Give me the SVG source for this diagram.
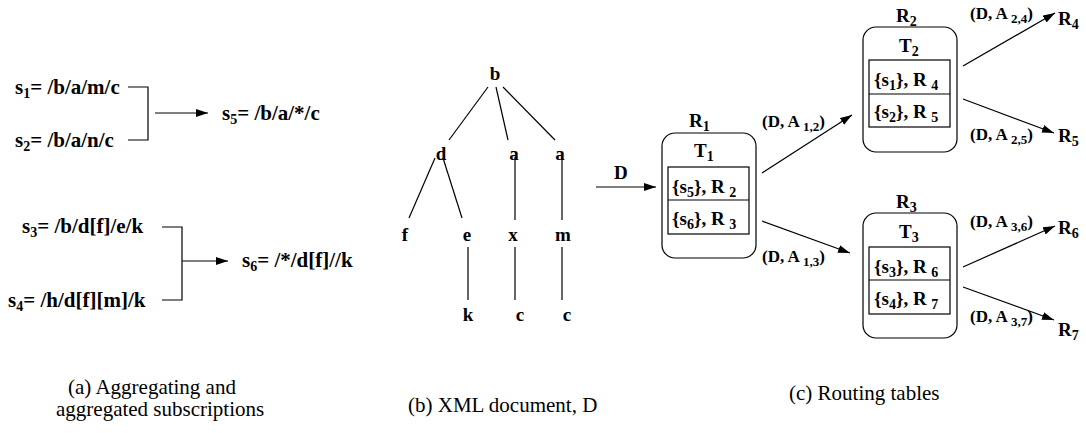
<svg xmlns="http://www.w3.org/2000/svg" width="1086" height="433" viewBox="0 0 1086 433" font-family="'Liberation Serif', 'DejaVu Serif', serif">
<style>
text{font-family:'Liberation Serif','DejaVu Serif',serif;fill:#000}
.b{font-weight:bold;font-size:21px}
.t{font-weight:bold;font-size:19px;text-anchor:middle}
.l{font-weight:bold;font-size:19px}
.e{font-weight:bold;font-size:17px}
.cap{font-size:21px}
.ln{stroke:#000;stroke-width:1.2;fill:none}
.box{stroke:#000;stroke-width:1.2;fill:#fff}
.sub{font-size:14px}
.e .sub{font-size:13px}
</style>
<defs>
<marker id="ah" viewBox="0 0 12 8" refX="12" refY="4" markerWidth="12" markerHeight="8" markerUnits="userSpaceOnUse" orient="auto">
<path d="M0,0 L12,4 L0,8 Z" fill="#000"/>
</marker>
</defs>

<g id="connectors">
<path class="ln" d="M128,87 H148 V140 H128"/>
<line class="ln" x1="155" y1="113" x2="208" y2="113" marker-end="url(#ah)"/>
<path class="ln" d="M162,227 H182 V300 H162"/>
<line class="ln" x1="182" y1="261" x2="228" y2="261" marker-end="url(#ah)"/>
<line class="ln" x1="488" y1="87" x2="449" y2="140"/>
<line class="ln" x1="496" y1="87" x2="508" y2="140"/>
<line class="ln" x1="503" y1="87" x2="555" y2="140"/>
<line class="ln" x1="435" y1="158" x2="409" y2="218"/>
<line class="ln" x1="443" y1="158" x2="462" y2="218"/>
<line class="ln" x1="515" y1="157" x2="515" y2="220"/>
<line class="ln" x1="562" y1="157" x2="562" y2="220"/>
<line class="ln" x1="468" y1="247" x2="468" y2="300"/>
<line class="ln" x1="515" y1="247" x2="515" y2="300"/>
<line class="ln" x1="562" y1="247" x2="562" y2="300"/>
<line class="ln" x1="596" y1="187" x2="656" y2="187" marker-end="url(#ah)"/>
<line class="ln" x1="762" y1="173" x2="852" y2="115" marker-end="url(#ah)"/>
<line class="ln" x1="762" y1="221" x2="850" y2="253" marker-end="url(#ah)"/>
<line class="ln" x1="963" y1="66" x2="1055" y2="13" marker-end="url(#ah)"/>
<line class="ln" x1="963" y1="99" x2="1054" y2="133" marker-end="url(#ah)"/>
<line class="ln" x1="963" y1="267" x2="1055" y2="226" marker-end="url(#ah)"/>
<line class="ln" x1="963" y1="287" x2="1054" y2="320" marker-end="url(#ah)"/>
</g>

<g id="subscriptions">
<text class="b" x="15" y="94">s<tspan class="sub" dy="4">1</tspan><tspan dy="-4">= /b/a/m/c</tspan></text>
<text class="b" x="15" y="147">s<tspan class="sub" dy="4">2</tspan><tspan dy="-4">= /b/a/n/c</tspan></text>
<text class="b" x="222" y="120">s<tspan class="sub" dy="4">5</tspan><tspan dy="-4">= /b/a/*/c</tspan></text>
<text class="b" x="22" y="233">s<tspan class="sub" dy="4">3</tspan><tspan dy="-4">= /b/d[f]/e/k</tspan></text>
<text class="b" x="8" y="307">s<tspan class="sub" dy="4">4</tspan><tspan dy="-4">= /h/d[f][m]/k</tspan></text>
<text class="b" x="242" y="267">s<tspan class="sub" dy="4">6</tspan><tspan dy="-4">= /*/d[f]//k</tspan></text>
</g>

<g id="tree">
<text class="t" x="495" y="80">b</text>
<text class="t" x="441" y="160">d</text>
<text class="t" x="514" y="160">a</text>
<text class="t" x="560" y="160">a</text>
<text class="t" x="405" y="241">f</text>
<text class="t" x="467" y="241">e</text>
<text class="t" x="513" y="241">x</text>
<text class="t" x="563" y="241">m</text>
<text class="t" x="468" y="321">k</text>
<text class="t" x="520" y="321">c</text>
<text class="t" x="567" y="321">c</text>
<text class="l" x="614" y="179">D</text>
</g>

<g id="R1">
<rect class="box" x="662" y="133" width="94" height="125" rx="13"/>
<text class="l" x="689" y="127">R<tspan class="sub" dy="4">1</tspan></text>
<text class="l" x="694" y="157">T<tspan class="sub" dy="4">1</tspan></text>
<rect class="box" x="668" y="167" width="81" height="67"/>
<line class="ln" x1="668" y1="200" x2="749" y2="200"/>
<text class="l" x="672" y="193">{s<tspan class="sub" dy="4">5</tspan><tspan dy="-4">}, R </tspan><tspan class="sub" dy="4">2</tspan></text>
<text class="l" x="672" y="225">{s<tspan class="sub" dy="4">6</tspan><tspan dy="-4">}, R </tspan><tspan class="sub" dy="4">3</tspan></text>
</g>

<g id="R2">
<rect class="box" x="863" y="27" width="94" height="125" rx="13"/>
<text class="l" x="896" y="22">R<tspan class="sub" dy="4">2</tspan></text>
<text class="l" x="899" y="52">T<tspan class="sub" dy="4">2</tspan></text>
<rect class="box" x="869" y="60" width="81" height="67"/>
<line class="ln" x1="869" y1="94" x2="950" y2="94"/>
<text class="l" x="874" y="86">{s<tspan class="sub" dy="4">1</tspan><tspan dy="-4">}, R </tspan><tspan class="sub" dy="4">4</tspan></text>
<text class="l" x="874" y="118">{s<tspan class="sub" dy="4">2</tspan><tspan dy="-4">}, R </tspan><tspan class="sub" dy="4">5</tspan></text>
</g>

<g id="R3">
<rect class="box" x="863" y="213" width="94" height="125" rx="13"/>
<text class="l" x="896" y="208">R<tspan class="sub" dy="4">3</tspan></text>
<text class="l" x="899" y="238">T<tspan class="sub" dy="4">3</tspan></text>
<rect class="box" x="869" y="247" width="81" height="67"/>
<line class="ln" x1="869" y1="280" x2="950" y2="280"/>
<text class="l" x="874" y="273">{s<tspan class="sub" dy="4">3</tspan><tspan dy="-4">}, R </tspan><tspan class="sub" dy="4">6</tspan></text>
<text class="l" x="874" y="305">{s<tspan class="sub" dy="4">4</tspan><tspan dy="-4">}, R </tspan><tspan class="sub" dy="4">7</tspan></text>
</g>

<g id="leaves">
<text class="l" x="1058" y="25">R<tspan class="sub" dy="4">4</tspan></text>
<text class="l" x="1058" y="142">R<tspan class="sub" dy="4">5</tspan></text>
<text class="l" x="1058" y="234">R<tspan class="sub" dy="4">6</tspan></text>
<text class="l" x="1058" y="336">R<tspan class="sub" dy="4">7</tspan></text>
</g>

<g id="edge-labels">
<text class="e" x="762" y="127">(D, A <tspan class="sub" dy="4">1,2</tspan><tspan dy="-4">)</tspan></text>
<text class="e" x="762" y="262">(D, A <tspan class="sub" dy="4">1,3</tspan><tspan dy="-4">)</tspan></text>
<text class="e" x="970" y="19">(D, A <tspan class="sub" dy="4">2,4</tspan><tspan dy="-4">)</tspan></text>
<text class="e" x="970" y="140">(D, A <tspan class="sub" dy="4">2,5</tspan><tspan dy="-4">)</tspan></text>
<text class="e" x="970" y="227">(D, A <tspan class="sub" dy="4">3,6</tspan><tspan dy="-4">)</tspan></text>
<text class="e" x="970" y="322">(D, A <tspan class="sub" dy="4">3,7</tspan><tspan dy="-4">)</tspan></text>
</g>

<g id="captions">
<text class="cap" x="68" y="394">(a) Aggregating and</text>
<text class="cap" x="56" y="416">aggregated subscriptions</text>
<text class="cap" x="408" y="412">(b) XML document, D</text>
<text class="cap" x="789" y="400">(c) Routing tables</text>
</g>
</svg>
